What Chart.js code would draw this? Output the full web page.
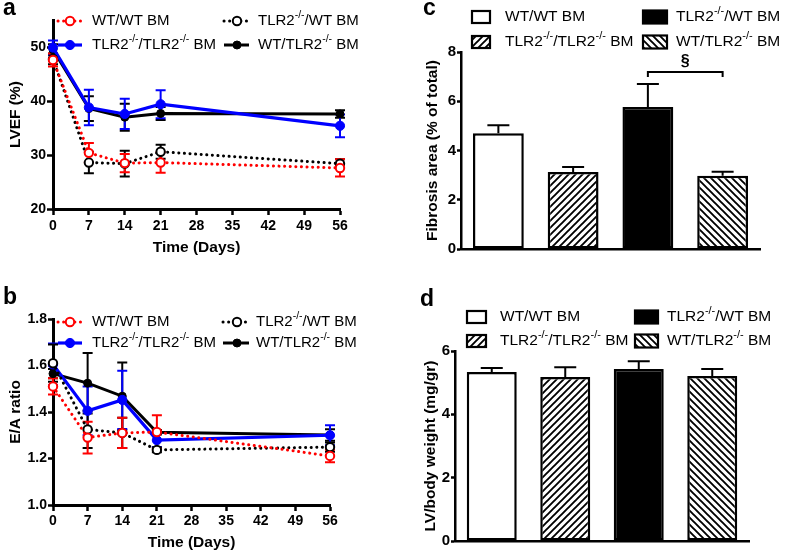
<!DOCTYPE html>
<html>
<head>
<meta charset="utf-8">
<script src="https://cdn.jsdelivr.net/npm/chart.js@4.4.1/dist/chart.umd.min.js"></script>
<style>
  html, body { margin: 0; padding: 0; background: #fff; }
  body { width: 787px; height: 554px; position: relative; overflow: hidden; font-family: "Liberation Sans", Arial, sans-serif; }
  canvas { position: absolute; }
  .tag { position: absolute; font-weight: bold; font-size: 23px; line-height: 1; }
</style>
</head>
<body>
<canvas id="chartA" width="400" height="265" style="left:0;top:0"></canvas>
<canvas id="chartB" width="400" height="284" style="left:0;top:270px"></canvas>
<canvas id="chartC" width="387" height="265" style="left:400px;top:0"></canvas>
<canvas id="chartD" width="387" height="284" style="left:400px;top:270px"></canvas>
<div class="tag" style="left:3px;top:-4px">a</div>
<div class="tag" style="left:3px;top:285px">b</div>
<div class="tag" style="left:423px;top:-4px">c</div>
<div class="tag" style="left:420px;top:287px">d</div>
<script>
// ---- data ----
const days = [0, 7, 14, 21, 56];
// ^...^ marks superscript
const groupLabels = ['WT/WT BM', 'TLR2^-/-^/WT BM', 'TLR2^-/-^/TLR2^-/-^ BM', 'WT/TLR2^-/-^ BM'];

// panel a: LVEF (%)
const lvefWtWt = [47.6, 30.4, 28.5, 28.6, 27.6];
const lvefWtWtErr = [1.2, 1.8, 1.7, 1.9, 1.6];
const lvefTlrWt = [47.8, 28.6, 28.4, 30.6, 28.4];
const lvefTlrWtErr = [1.0, 2.0, 2.4, 1.3, 0.8];
const lvefTlrTlr = [49.9, 38.8, 37.6, 39.4, 35.4];
const lvefTlrTlrErr = [1.3, 3.3, 2.8, 2.6, 2.1];
const lvefWtTlr = [49.5, 38.6, 37.0, 37.7, 37.6];
const lvefWtTlrErr = [1.0, 2.3, 2.5, 1.2, 0.7];
const lvefTicks = [20, 30, 40, 50];

// panel b: E/A ratio
const eaWtWt = [1.51, 1.29, 1.31, 1.314, 1.211];
const eaWtWtErr = [0.035, 0.068, 0.065, 0.072, 0.027];
const eaTlrWt = [1.61, 1.325, 1.31, 1.237, 1.249];
const eaTlrWtErr = [0.08, 0.08, 0.065, 0.01, 0.02];
const eaTlrTlr = [1.605, 1.405, 1.452, 1.279, 1.3];
const eaTlrTlrErr = [0.09, 0.105, 0.125, 0.03, 0.043];
const eaWtTlr = [1.565, 1.524, 1.468, 1.313, 1.301];
const eaWtTlrErr = [0.02, 0.13, 0.145, 0.01, 0.025];
const eaTicks = [1.0, 1.2, 1.4, 1.6, 1.8];

// panels c, d: bar order differs from legend order
const barGroups = ['WT/WT BM', 'TLR2^-/-^/TLR2^-/-^ BM', 'TLR2^-/-^/WT BM', 'WT/TLR2^-/-^ BM'];
const fibrosis = [4.7, 3.13, 5.77, 2.97];
const fibrosisErr = [0.33, 0.2, 0.93, 0.17];
const fibrosisSig = { from: 2, to: 3, level: 7.19, drop: 6.98, labelAt: 7.6, text: '§' };
const lvWeight = [5.34, 5.18, 5.43, 5.21];
const lvWeightErr = [0.12, 0.31, 0.25, 0.22];

// ---- styles ----
const FONT = '"Liberation Sans", Arial, sans-serif';
Chart.defaults.font.family = FONT;
Chart.defaults.color = '#000';

const lineStyles = [
  { borderColor: '#ff0000', borderWidth: 3, borderDash: [0.1, 5.5], borderCapStyle: 'round',
    pointRadius: 4.2, pointBorderWidth: 2, pointBackgroundColor: '#fff', pointBorderColor: '#ff0000' },
  { borderColor: '#000', borderWidth: 3, borderDash: [0.1, 5.5], borderCapStyle: 'round',
    pointRadius: 4.2, pointBorderWidth: 2, pointBackgroundColor: '#fff', pointBorderColor: '#000' },
  { borderColor: '#0000ff', borderWidth: 3.2, borderDash: [],
    pointRadius: 4.6, pointBorderWidth: 1, pointBackgroundColor: '#0000ff', pointBorderColor: '#0000ff' },
  { borderColor: '#000', borderWidth: 3, borderDash: [],
    pointRadius: 4, pointBorderWidth: 1, pointBackgroundColor: '#000', pointBorderColor: '#000' }
];

function richText(ctx, text, x, y, size, sup) {
  const parts = text.split('^');
  let cx = x;
  ctx.textAlign = 'left';
  ctx.textBaseline = 'middle';
  ctx.fillStyle = '#000';
  parts.forEach((p, i) => {
    const isSup = i % 2 === 1;
    ctx.font = (isSup ? sup : size) + 'px ' + FONT;
    ctx.fillText(p, cx, isSup ? y - size * 0.36 : y);
    cx += ctx.measureText(p).width;
  });
}

function hatch(canvasId, dir) {
  const s = 7;
  const tile = document.createElement('canvas');
  tile.width = s; tile.height = s;
  const g = tile.getContext('2d');
  g.fillStyle = '#fff';
  g.fillRect(0, 0, s, s);
  g.strokeStyle = '#000';
  g.lineWidth = 1.9;
  g.beginPath();
  if (dir > 0) {
    g.moveTo(-1, s + 1); g.lineTo(s + 1, -1);
    g.moveTo(-1, 1); g.lineTo(1, -1);
    g.moveTo(s - 1, s + 1); g.lineTo(s + 1, s - 1);
  } else {
    g.moveTo(-1, -1); g.lineTo(s + 1, s + 1);
    g.moveTo(s - 1, -1); g.lineTo(s + 1, 1);
    g.moveTo(-1, s - 1); g.lineTo(1, s + 1);
  }
  g.stroke();
  return document.getElementById(canvasId).getContext('2d').createPattern(tile, 'repeat');
}

// error bars through the y scale
const errorBars = {
  id: 'errorBars',
  beforeDatasetsDraw(chart) {
    const { ctx } = chart;
    const yScale = chart.scales.y;
    for (let di = chart.data.datasets.length - 1; di >= 0; di--) {
      const ds = chart.data.datasets[di];
      if (!ds.errors) continue;
      const meta = chart.getDatasetMeta(di);
      ctx.save();
      ctx.strokeStyle = ds.errorColor || ds.borderColor;
      ctx.lineWidth = ds.errorWidth || 2;
      meta.data.forEach((el, i) => {
        const raw = ds.data[i];
        const val = typeof raw === 'object' ? raw.y : raw;
        const e = ds.errors[i];
        const top = yScale.getPixelForValue(val + e);
        const bot = ds.upOnly ? yScale.getPixelForValue(val) : yScale.getPixelForValue(val - e);
        const half = ds.capHalf || 5;
        ctx.beginPath();
        ctx.moveTo(el.x, top); ctx.lineTo(el.x, bot);
        ctx.moveTo(el.x - half, top); ctx.lineTo(el.x + half, top);
        if (!ds.upOnly) { ctx.moveTo(el.x - half, bot); ctx.lineTo(el.x + half, bot); }
        ctx.stroke();
      });
      ctx.restore();
    }
  }
};

// legend in two columns, drawn at fixed spots
function lineLegend(rows, cols, size, sup) {
  return {
    id: 'lineLegend',
    afterDraw(chart) {
      const ctx = chart.ctx;
      chart.data.datasets.forEach((ds, i) => {
        const y = rows[Math.floor(i / 2)];
        const c = cols[i % 2];
        ctx.save();
        ctx.strokeStyle = ds.borderColor;
        ctx.lineWidth = ds.borderWidth;
        ctx.lineCap = ds.borderCapStyle || 'butt';
        ctx.setLineDash(ds.borderDash || []);
        ctx.beginPath();
        ctx.moveTo(c.x0, y); ctx.lineTo(c.x1, y);
        ctx.stroke();
        ctx.setLineDash([]);
        ctx.beginPath();
        ctx.arc(c.mx, y, ds.pointRadius, 0, Math.PI * 2);
        ctx.fillStyle = ds.pointBackgroundColor;
        ctx.fill();
        ctx.lineWidth = ds.pointBorderWidth;
        ctx.strokeStyle = ds.pointBorderColor;
        ctx.stroke();
        richText(ctx, ds.label, c.tx, y, size, sup);
        ctx.restore();
      });
    }
  };
}

function barLegend(rows, cols, size, sup) {
  // legend order: white, black / hatched, hatched
  const order = [0, 2, 1, 3];
  return {
    id: 'barLegend',
    afterDraw(chart) {
      const ctx = chart.ctx;
      const ds = chart.data.datasets[0];
      order.forEach((bi, k) => {
        const y = rows[Math.floor(k / 2)];
        const c = cols[k % 2];
        ctx.save();
        ctx.fillStyle = ds.backgroundColor[bi];
        ctx.fillRect(c.bx, y - c.bh / 2, c.bw, c.bh);
        ctx.lineWidth = 2.2;
        ctx.strokeStyle = '#000';
        ctx.strokeRect(c.bx, y - c.bh / 2, c.bw, c.bh);
        richText(ctx, chart.data.labels[bi], c.tx, y, size, sup);
        ctx.restore();
      });
    }
  };
}

function axisY(o) {
  return {
    min: o.min, max: o.max,
    afterFit: s => { s.width = o.width; },
    afterBuildTicks: o.ticks ? (s => { s.ticks = o.ticks.map(v => ({ value: v })); }) : undefined,
    ticks: { font: { size: o.tickSize, weight: 'bold' }, padding: 1, color: '#000', stepSize: o.step,
             callback: o.fmt || (v => v) },
    grid: { display: true, drawOnChartArea: false, drawTicks: true, tickLength: o.tickLen,
            tickWidth: 2.5, tickColor: '#000', color: '#000' },
    border: { color: '#000', width: o.border },
    title: { display: true, text: o.title, font: { size: 15.5, weight: 'bold' }, color: '#000',
             padding: { top: o.titlePad, bottom: 0 } }
  };
}

function lineChart(id, o) {
  const sets = o.series.map((vals, i) => Object.assign({
    label: groupLabels[i],
    data: days.map((d, k) => ({ x: d, y: vals[k] })),
    errors: o.errors[i],
    tension: 0,
    clip: false
  }, lineStyles[i]));
  return new Chart(document.getElementById(id), {
    type: 'line',
    data: { datasets: sets },
    options: {
      responsive: false,
      animation: false,
      layout: { padding: o.pad },
      plugins: { legend: { display: false }, tooltip: { enabled: false } },
      scales: {
        x: {
          type: 'linear', min: 0, max: 56,
          afterFit: s => { s.height = o.xHeight; },
          ticks: { stepSize: 7, font: { size: 14, weight: 'bold' }, padding: o.xTickPad, color: '#000', maxRotation: 0 },
          grid: { display: true, drawOnChartArea: false, drawTicks: true, tickLength: 6,
                  tickWidth: 2.5, tickColor: '#000', color: '#000' },
          border: { color: '#000', width: 3 },
          title: { display: true, text: 'Time (Days)', font: { size: 15.5, weight: 'bold' }, color: '#000',
                   padding: { top: 0, bottom: o.xTitlePad } }
        },
        y: axisY(o.y)
      }
    },
    plugins: [errorBars, lineLegend(o.rows, o.cols, 15, 10.5)]
  });
}

function barChart(id, o) {
  const bg = ['#fff', hatch(id, 1), '#000', hatch(id, -1)];
  const plugins = [errorBars, barLegend(o.rows, o.cols, 15.5, 11)];
  if (o.sig) {
    const sig = o.sig;
    plugins.push({
      id: 'sigBracket',
      afterDatasetsDraw(chart) {
        const { ctx, scales: { x, y } } = chart;
        const x1 = x.getPixelForValue(sig.from), x2 = x.getPixelForValue(sig.to);
        const yl = y.getPixelForValue(sig.level), yd = y.getPixelForValue(sig.drop);
        ctx.save();
        ctx.strokeStyle = '#000';
        ctx.lineWidth = 2;
        ctx.beginPath();
        ctx.moveTo(x1, yd); ctx.lineTo(x1, yl); ctx.lineTo(x2, yl); ctx.lineTo(x2, yd);
        ctx.stroke();
        ctx.font = 'bold 16px ' + FONT;
        ctx.textAlign = 'center';
        ctx.textBaseline = 'middle';
        ctx.fillStyle = '#000';
        ctx.fillText(sig.text, (x1 + x2) / 2, y.getPixelForValue(sig.labelAt));
        ctx.restore();
      }
    });
  }
  return new Chart(document.getElementById(id), {
    type: 'bar',
    data: {
      labels: barGroups,
      datasets: [{
        data: o.values,
        errors: o.errors,
        upOnly: true,
        capHalf: 11,
        errorColor: '#000',
        errorWidth: 2,
        backgroundColor: bg,
        borderColor: '#000',
        borderWidth: 2.5,
        borderSkipped: false,
        barPercentage: 0.68,
        categoryPercentage: 1
      }]
    },
    options: {
      responsive: false,
      animation: false,
      layout: { padding: o.pad },
      plugins: { legend: { display: false }, tooltip: { enabled: false } },
      scales: {
        x: {
          afterFit: s => { s.height = o.xHeight; },
          ticks: { display: false },
          grid: { display: false, drawTicks: false },
          border: { color: '#000', width: 2.5 }
        },
        y: axisY(o.y)
      }
    },
    plugins
  });
}

lineChart('chartA', {
  series: [lvefWtWt, lvefTlrWt, lvefTlrTlr, lvefWtTlr],
  errors: [lvefWtWtErr, lvefTlrWtErr, lvefTlrTlrErr, lvefWtTlrErr],
  pad: { top: 20, right: 60, left: 0, bottom: 0 },
  xHeight: 56, xTickPad: 3, xTitlePad: 8,
  y: { min: 20, max: 55, ticks: lvefTicks, width: 53, tickSize: 14, tickLen: 6, border: 3,
       title: 'LVEF (%)', titlePad: 6 },
  rows: [21, 45],
  cols: [{ x0: 58, x1: 82, mx: 70, tx: 92 }, { x0: 224, x1: 249, mx: 237, tx: 258 }]
});

lineChart('chartB', {
  series: [eaWtWt, eaTlrWt, eaTlrTlr, eaWtTlr],
  errors: [eaWtWtErr, eaTlrWtErr, eaTlrTlrErr, eaWtTlrErr],
  pad: { top: 49, right: 70, left: 0, bottom: 0 },
  xHeight: 49, xTickPad: 2, xTitlePad: 2,
  y: { min: 1.0, max: 1.8, ticks: eaTicks, width: 53, tickSize: 14, tickLen: 5, border: 3,
       title: 'E/A ratio', titlePad: 6, fmt: v => Number(v).toFixed(1) },
  rows: [52, 73],
  cols: [{ x0: 58, x1: 82, mx: 70, tx: 92 }, { x0: 223, x1: 249, mx: 237, tx: 256 }]
});

barChart('chartC', {
  values: fibrosis, errors: fibrosisErr, sig: fibrosisSig,
  pad: { top: 52, right: 27, left: 0, bottom: 0 },
  xHeight: 16,
  y: { min: 0, max: 8, step: 2, width: 61, tickSize: 15, tickLen: 4, border: 2.5,
       title: 'Fibrosis area (% of total)', titlePad: 23.5 },
  rows: [17, 42],
  cols: [{ bx: 72, bw: 18, bh: 12, tx: 105 }, { bx: 243, bw: 24, bh: 13, tx: 276 }]
});

barChart('chartD', {
  values: lvWeight, errors: lvWeightErr,
  pad: { top: 81, right: 38, left: 0, bottom: 0 },
  xHeight: 13,
  y: { min: 0, max: 6, step: 2, width: 55, tickSize: 15, tickLen: 4, border: 2.5,
       title: 'LV/body weight (mg/gr)', titlePad: 21 },
  rows: [47, 71],
  cols: [{ bx: 67, bw: 19, bh: 12, tx: 100 }, { bx: 235, bw: 23, bh: 13, tx: 267 }]
});
</script>
</body>
</html>
